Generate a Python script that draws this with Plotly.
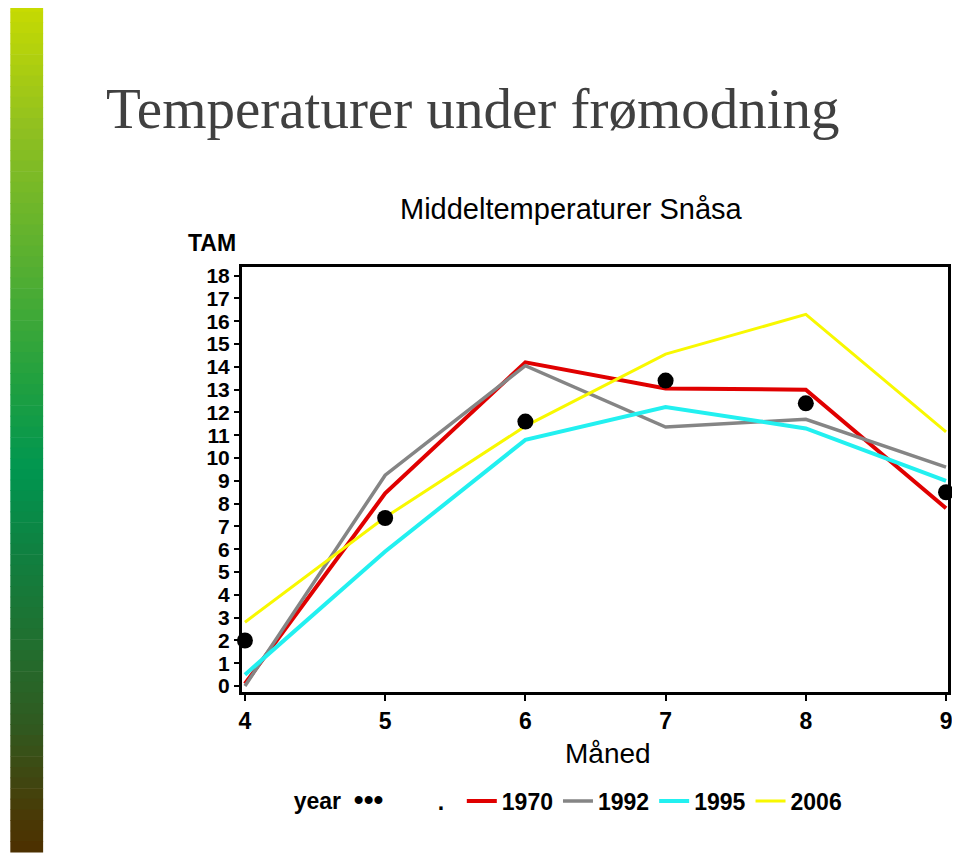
import plotly.graph_objects as go

months = [4, 5, 6, 7, 8, 9]
year_missing = [2.0, 7.37, 11.6, 13.4, 12.4, 8.5]
y1970 = [0.1, 8.45, 14.2, 13.05, 13.0, 7.8]
y1992 = [0.0, 9.25, 14.05, 11.36, 11.7, 9.6]
y1995 = [0.5, 5.9, 10.8, 12.24, 11.3, 9.0]
y2006 = [2.8, 7.4, 11.4, 14.56, 16.3, 11.15]
y_ticks = list(range(0, 19))

OFF = 8  # page body margin
W, H = 960 - OFF, 854 - OFF
L, R, T, B = 242 - OFF, 952 - OFF, 267 - OFF, 692 - OFF  # plot area in figure pixels


def px(xref_pix):
    return (xref_pix - OFF - L) / (R - L)


def py(yref_pix):
    return (B - (yref_pix - OFF)) / (B - T)


fig = go.Figure()

fig.add_trace(go.Scatter(x=[None], y=[None], mode="markers", name=".&nbsp;&nbsp;",
                         marker=dict(color="rgba(0,0,0,0)", size=1)))
fig.add_trace(go.Scatter(x=months, y=y1970, mode="lines", name="1970",
                         line=dict(color="#e00000", width=4)))
fig.add_trace(go.Scatter(x=months, y=y1992, mode="lines", name="1992",
                         line=dict(color="#858585", width=3.5)))
fig.add_trace(go.Scatter(x=months, y=y1995, mode="lines", name="1995",
                         line=dict(color="#22f0f0", width=4)))
fig.add_trace(go.Scatter(x=months, y=y2006, mode="lines", name="2006",
                         line=dict(color="#f8f800", width=3)))
fig.add_trace(go.Scatter(x=months, y=year_missing, mode="markers", name=".",
                         marker=dict(color="black", size=16), showlegend=False,
                         cliponaxis=False))

# gradient bar on the left
stops = [
    (0.00, (201, 220, 0)),
    (0.15, (144, 192, 32)),
    (0.30, (90, 176, 48)),
    (0.45, (32, 160, 64)),
    (0.55, (0, 150, 80)),
    (0.65, (16, 128, 64)),
    (0.75, (32, 112, 48)),
    (0.85, (48, 90, 32)),
    (0.95, (72, 60, 8)),
    (1.00, (77, 48, 0)),
]


def col(t):
    for (a, ca), (b, cb) in zip(stops[:-1], stops[1:]):
        if a <= t <= b:
            f = (t - a) / (b - a) if b > a else 0
            return "rgb(%d,%d,%d)" % tuple(round(ca[i] + (cb[i] - ca[i]) * f) for i in range(3))
    return "rgb(77,48,0)"


shapes = []
N = 80
top, bot = 1, 852
for i in range(N):
    y0 = top + (bot - top) * i / N
    y1 = top + (bot - top) * (i + 1) / N + 0.6
    shapes.append(dict(type="rect", xref="paper", yref="paper",
                       x0=px(9), x1=px(42), y0=py(y1), y1=py(y0),
                       fillcolor=col((i + 0.5) / N), line=dict(width=0), layer="below"))

annotations = [
    dict(text="Temperaturer under frømodning", xref="paper", yref="paper",
         x=px(103), y=py(108), xanchor="left", yanchor="middle", showarrow=False,
         font=dict(family="Liberation Serif", size=57, color="#404040")),
    dict(text="Middeltemperaturer Snåsa", xref="paper", yref="paper",
         x=px(573), y=py(209), xanchor="center", yanchor="middle", showarrow=False,
         font=dict(family="Liberation Sans", size=29, color="black")),
    dict(text="<b>TAM</b>", xref="paper", yref="paper",
         x=px(212), y=py(243), xanchor="center", yanchor="middle", showarrow=False,
         font=dict(family="Liberation Sans", size=23, color="black")),
    dict(text="Måned", xref="paper", yref="paper",
         x=px(610), y=py(753), xanchor="center", yanchor="middle", showarrow=False,
         font=dict(family="Liberation Sans", size=28, color="black")),
]

fig.update_layout(
    width=W, height=H,
    margin=dict(l=L, r=W - R, t=T, b=H - B),
    paper_bgcolor="white", plot_bgcolor="white",
    shapes=shapes, annotations=annotations,
    showlegend=True,
    legend=dict(orientation="h", x=px(292), y=py(801), xanchor="left", yanchor="middle",
                font=dict(family="Liberation Sans", size=23, color="black", weight="bold"),
                title=dict(text="<b>year</b>  <span style='font-size:28px'><b>•••</b></span>&nbsp;",
                           side="left",
                           font=dict(family="Liberation Sans", size=23, color="black")),
                traceorder="normal", itemwidth=30, tracegroupgap=0),
    xaxis=dict(range=[3.979, 9.014], tickvals=months, ticks="outside", ticklen=6,
               tickwidth=2, tickcolor="black", showgrid=False, zeroline=False,
               showline=True, linecolor="black", linewidth=3, mirror=True,
               tickfont=dict(family="Liberation Sans", size=23, color="black", weight="bold")),
    yaxis=dict(range=[-0.26, 18.38], tickvals=y_ticks, ticks="outside", ticklen=5,
               tickwidth=2, tickcolor="black", showgrid=False, zeroline=False,
               showline=True, linecolor="black", linewidth=3, mirror=True,
               tickfont=dict(family="Liberation Sans", size=21, color="black", weight="bold")),
)

fig.write_html("out.html")
